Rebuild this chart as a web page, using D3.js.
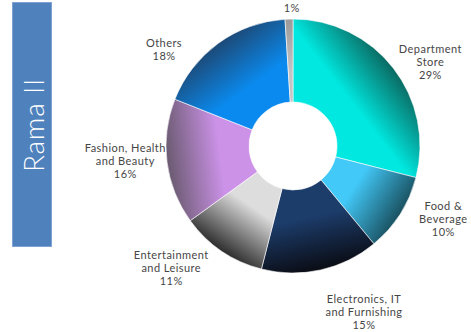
<!DOCTYPE html>
<html>
<head>
<meta charset="utf-8">
<script src="https://cdn.jsdelivr.net/npm/d3@7"></script>
<style>
  html, body { margin: 0; padding: 0; background: #fff; }
  svg { display: block; }
  .label { font-family: Lato, 'DejaVu Sans', sans-serif; font-size: 11px; fill: #464646; letter-spacing: 0.45px; }
</style>
</head>
<body>
<svg class="chart"></svg>
<script>
// data
const categories = ['Department Store', 'Food & Beverage', 'Electronics, IT and Furnishing',
  'Entertainment and Leisure', 'Fashion, Health and Beauty', 'Others', ''];
const shares = [29, 10, 15, 11, 16, 18, 1];
const labelLines = [
  ['Department', 'Store'],
  ['Food &', 'Beverage'],
  ['Electronics, IT', 'and Furnishing'],
  ['Entertainment', 'and Leisure'],
  ['Fashion, Health', 'and Beauty'],
  ['Others'],
  [],
];
const title = 'Rama II';

// styling
const sliceColors = [
  ['#00e8e0', '#0a6a62'],
  ['#42c9f8', '#1a5262'],
  ['#1c3c6a', '#0a0c14'],
  ['#dddddd', '#2e2e2e'],
  ['#cc92e8', '#6a5a70'],
  ['#0a8aee', '#1c4a78'],
  ['#c4c4c4', '#9a9a9a'],
];
const labelNudge = [[7, 17], [11, -15], [35, 5], [-29, -14], [-4, -6], [-32, 37], [4, 27]];

const startApp = () => {
  const viewBox = { width: 471, height: 332 };
  const center = { x: 293, y: 146 };
  const radius = { inner: 44, outer: 127, label: 165 };
  const lineHeight = 13;

  const svg = d3.select('.chart')
    .attr('width', viewBox.width)
    .attr('height', viewBox.height);

  // title box
  svg.append('rect')
    .attr('x', 12.5).attr('y', 2.5)
    .attr('width', 39).attr('height', 244)
    .attr('fill', '#4f81bd')
    .attr('stroke', '#7ea3d2')
    .attr('stroke-width', 1);

  svg.append('text')
    .attr('transform', 'translate(33, 125) rotate(-90)')
    .attr('text-anchor', 'middle')
    .attr('dominant-baseline', 'central')
    .style('font-family', "Lato, 'DejaVu Sans', sans-serif")
    .style('font-weight', 300)
    .style('font-size', '28px')
    .style('letter-spacing', '0.8px')
    .attr('fill', '#fff')
    .text(title);

  const pie = d3.pie().sort(null).value(d => d);
  const arcs = pie(shares);
  const arc = d3.arc().innerRadius(radius.inner).outerRadius(radius.outer);
  const labelArc = d3.arc().innerRadius(radius.label).outerRadius(radius.label);

  const defs = svg.append('defs');
  arcs.forEach((a, i) => {
    const mid = (a.startAngle + a.endAngle) / 2;
    const g = defs.append('linearGradient')
      .attr('id', `grad${i}`)
      .attr('gradientUnits', 'userSpaceOnUse')
      .attr('x1', Math.sin(mid) * radius.inner)
      .attr('y1', -Math.cos(mid) * radius.inner)
      .attr('x2', Math.sin(mid) * radius.outer)
      .attr('y2', -Math.cos(mid) * radius.outer);
    g.append('stop').attr('offset', '0%').attr('stop-color', sliceColors[i][0]);
    g.append('stop').attr('offset', '35%').attr('stop-color', sliceColors[i][0]);
    g.append('stop').attr('offset', '100%').attr('stop-color', sliceColors[i][1]);
  });

  const chart = svg.append('g')
    .attr('transform', `translate(${center.x}, ${center.y})`);

  chart.selectAll('path')
    .data(arcs)
    .enter()
    .append('path')
    .attr('d', arc)
    .attr('fill', (d, i) => `url(#grad${i})`)
    .attr('stroke', '#fff')
    .attr('stroke-width', 0.6);

  const labels = chart.selectAll('text.label')
    .data(arcs)
    .enter()
    .append('text')
    .attr('class', 'label')
    .attr('text-anchor', 'middle')
    .attr('transform', (d, i) => {
      const [x, y] = labelArc.centroid(d);
      return `translate(${x + labelNudge[i][0]}, ${y + labelNudge[i][1]})`;
    });

  labels.each(function (d, i) {
    const lines = [...labelLines[i], `${shares[i]}%`];
    const offset = (lines.length - 1) / 2;
    d3.select(this).selectAll('tspan')
      .data(lines)
      .enter()
      .append('tspan')
      .attr('x', 0)
      .attr('y', (l, j) => (j - offset) * lineHeight)
      .attr('dy', '0.35em')
      .text(l => l);
  });
};

window.onload = startApp;
</script>
</body>
</html>
